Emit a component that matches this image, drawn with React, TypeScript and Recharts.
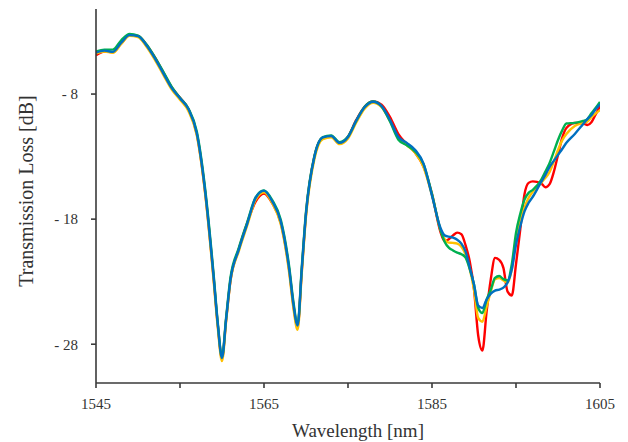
import React from 'react';
import { LineChart, Line, XAxis, YAxis, Label } from 'recharts';

const wavelength = [
  1545, 1546, 1547, 1548, 1549, 1550, 1551, 1552, 1553, 1554, 1555, 1556, 1557, 1558, 1559, 1559.5,
  1560, 1560.5, 1561, 1562, 1563, 1564, 1565, 1566, 1567, 1568, 1568.5, 1569, 1569.5, 1570, 1571,
  1572, 1573, 1574, 1575, 1576, 1577, 1578, 1579, 1580, 1581, 1582, 1583, 1584,
  1585, 1586, 1586.5, 1587, 1587.5, 1588, 1588.5, 1589, 1589.5, 1590, 1590.5, 1591, 1591.5, 1592,
  1592.5, 1593, 1593.5, 1594, 1594.5, 1595, 1595.5, 1596, 1596.5, 1597, 1598, 1598.5, 1599, 1599.5,
  1600, 1600.5, 1601, 1602, 1603, 1603.5, 1604, 1604.5, 1605,
];

const lossRed = [
  -4.9, -4.6, -4.66, -3.95, -3.3, -3.35, -4.05, -5.05, -6.25, -7.45, -8.3, -9.2, -11.2, -15.9, -22.7, -26.5,
  -29.15, -26.0, -22.95, -20.4, -18.3, -16.6, -15.95, -16.75, -18.3, -22.1, -24.9, -26.6, -22.1, -17.6, -13.0,
  -11.5, -11.4, -11.95, -11.4, -10.05, -9.0, -8.6, -8.85, -9.85, -11.2, -12.0, -12.7, -13.8,
  -16.0, -19.0, -19.75, -19.6, -19.3, -19.08, -19.2, -20.1, -21.4, -23.6, -27.3, -28.5, -25.4, -22.8,
  -21.1, -21.25, -21.9, -23.8, -24.1, -21.6, -18.85, -16.05, -15.1, -14.98, -15.14, -15.45, -15.2, -14.22,
  -12.86, -11.5, -10.71, -10.31, -10.35, -10.47, -10.23, -9.6, -8.96,
];

const lossYellow = [
  -4.75, -4.6, -4.7, -4.0, -3.35, -3.45, -4.2, -5.25, -6.45, -7.62, -8.45, -9.35, -11.3, -16.0, -22.9, -26.7,
  -29.35, -26.1, -23.0, -20.55, -18.5, -16.45, -15.85, -16.75, -18.4, -22.3, -25.1, -26.85, -22.3, -17.8, -13.2,
  -11.6, -11.45, -12.0, -11.55, -10.25, -9.15, -8.7, -9.05, -10.15, -11.55, -12.1, -12.7, -13.85,
  -16.1, -18.8, -19.6, -19.88, -19.9, -19.96, -20.2, -20.84, -22.0, -23.63, -25.9, -26.2, -24.99, -23.79,
  -22.8, -22.7, -22.91, -23.07, -22.0, -19.6, -18.1, -17.09, -16.3, -15.82, -15.1, -14.7, -14.22, -13.4,
  -12.47, -11.7, -11.19, -10.55, -10.31, -10.2, -9.83, -9.55, -9.28,
];

const lossGreen = [
  -4.6, -4.45, -4.45, -3.7, -3.2, -3.32, -4.02, -5.05, -6.2, -7.4, -8.3, -9.15, -11.0, -15.6, -22.4, -26.3,
  -29.0, -25.8, -22.7, -20.3, -18.25, -16.25, -15.7, -16.5, -18.05, -21.8, -24.6, -26.4, -21.8, -17.4, -12.95,
  -11.45, -11.3, -11.85, -11.4, -10.1, -9.0, -8.6, -9.0, -10.2, -11.65, -12.1, -12.6, -13.6,
  -16.0, -18.85, -19.8, -20.28, -20.5, -20.68, -20.8, -21.08, -22.0, -23.23, -25.1, -25.5, -24.43, -23.63,
  -22.7, -22.55, -22.8, -22.9, -21.6, -19.1, -17.6, -16.45, -15.9, -15.66, -14.86, -14.2, -13.5, -12.6,
  -11.67, -10.9, -10.35, -10.3, -10.15, -10.0, -9.52, -9.1, -8.64,
];

const lossBlue = [
  -4.69, -4.53, -4.63, -3.89, -3.29, -3.37, -4.09, -5.12, -6.32, -7.5, -8.34, -9.2, -11.14, -15.8, -22.6, -26.42,
  -29.1, -25.94, -22.9, -20.44, -18.37, -16.3, -15.72, -16.6, -18.2, -22.0, -24.8, -26.5, -22.0, -17.57, -13.02,
  -11.47, -11.35, -11.9, -11.43, -10.11, -9.04, -8.61, -8.96, -10.07, -11.43, -11.9, -12.47, -13.58,
  -16.13, -18.69, -19.3, -19.4, -19.48, -19.64, -19.96, -20.6, -21.88, -23.23, -24.9, -25.1, -24.43, -23.95,
  -23.71, -23.63, -23.47, -23.07, -22.03, -20.04, -18.6, -17.4, -16.69, -16.21, -15.02, -14.46, -13.82, -13.34,
  -12.86, -12.39, -11.9, -11.19, -10.39, -9.99, -9.67, -9.2, -8.8,
];

const xTicks = [1545, 1555, 1565, 1575, 1585, 1595, 1605];
const xTickLabels: Record<number, string> = { 1545: '1545', 1565: '1565', 1585: '1585', 1605: '1605' };
const yTicks = [-28, -18, -8];

const FONT = '"Liberation Serif", "Times New Roman", serif';
const AXIS = '#3a3a3a';
const TEXT = '#333333';

export default function App() {
  const data = wavelength.map((w, i) => ({
    wl: w,
    red: lossRed[i],
    yellow: lossYellow[i],
    green: lossGreen[i],
    blue: lossBlue[i],
  }));

  return (
    <LineChart width={620} height={434} data={data} margin={{ top: 1, right: 28, left: 0, bottom: 0 }}>
      <XAxis
        dataKey="wl"
        type="number"
        domain={[1545, 1605]}
        ticks={xTicks}
        interval={0}
        allowDataOverflow
        tickFormatter={(v: number) => xTickLabels[v] ?? ''}
        height={59}
        stroke={AXIS}
        strokeWidth={1.6}
        tickLine={{ stroke: AXIS, strokeWidth: 1.6 }}
        tickSize={5}
        tickMargin={10}
        tick={{ fill: TEXT, fontSize: 15, fontFamily: FONT }}
      >
        <Label
          content={() => (
            <text x={350} y={428.5} textAnchor="middle" fill={TEXT} fontSize={19} fontFamily={FONT}>
              Wavelength [nm]
            </text>
          )}
        />
      </XAxis>
      <YAxis
        type="number"
        domain={[-31.1, -1.2]}
        ticks={yTicks}
        interval={0}
        allowDataOverflow
        tickFormatter={(v: number) => '- ' + Math.abs(v)}
        width={88}
        stroke={AXIS}
        strokeWidth={1.6}
        tickLine={{ stroke: AXIS, strokeWidth: 1.6 }}
        tickSize={5}
        tickMargin={13}
        tick={{ fill: TEXT, fontSize: 15, fontFamily: FONT }}
      >
        <Label
          content={() => (
            <text
              x={25}
              y={183}
              textAnchor="middle"
              fill={TEXT}
              fontSize={20}
              fontFamily={FONT}
              transform="rotate(-90, 25, 183)"
            >
              Transmission Loss [dB]
            </text>
          )}
        />
      </YAxis>
      <Line type="monotone" dataKey="red" stroke="#FF0000" strokeWidth={2.4} dot={false} isAnimationActive={false} />
      <Line type="monotone" dataKey="yellow" stroke="#FFC000" strokeWidth={2.4} dot={false} isAnimationActive={false} />
      <Line type="monotone" dataKey="green" stroke="#00B050" strokeWidth={2.4} dot={false} isAnimationActive={false} />
      <Line type="monotone" dataKey="blue" stroke="#0070C0" strokeWidth={2.4} dot={false} isAnimationActive={false} />
    </LineChart>
  );
}
